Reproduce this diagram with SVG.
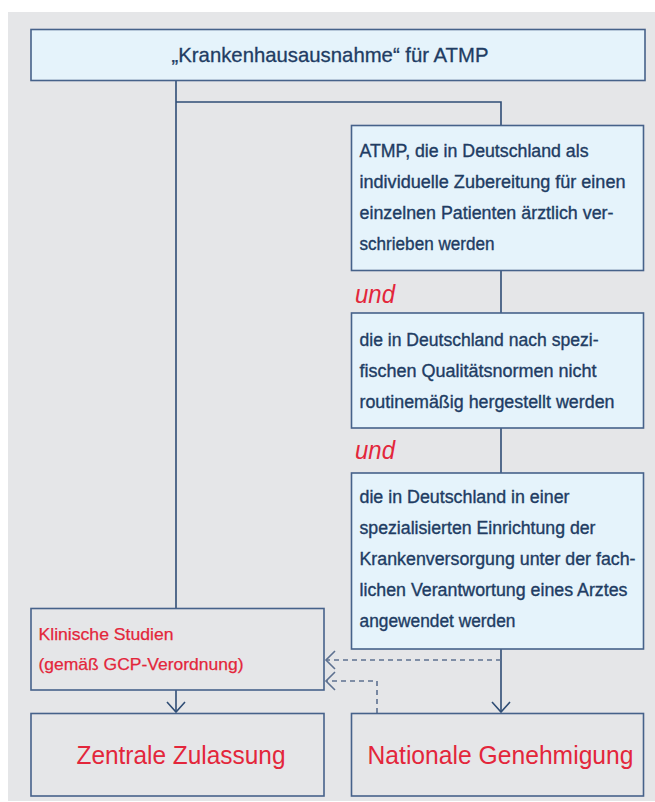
<svg xmlns="http://www.w3.org/2000/svg" width="655" height="802" viewBox="0 0 655 802">
  <style>
    .box { fill: #e5f3fb; stroke: #46628a; stroke-width: 1.6; }
    .gbox { fill: #e5e6e8; stroke: #46628a; stroke-width: 1.6; }
    .t { font-family: "Liberation Sans", Arial, sans-serif; font-size: 17.5px; fill: #213c63; stroke: #213c63; stroke-width: 0.35; }
    .title { font-family: "Liberation Sans", Arial, sans-serif; font-size: 21px; fill: #213c63; stroke: #213c63; stroke-width: 0.3; }
    .red { font-family: "Liberation Sans", Arial, sans-serif; font-size: 17px; fill: #e3263b; stroke: #e3263b; stroke-width: 0.25; }
    .big { font-family: "Liberation Sans", Arial, sans-serif; font-size: 26px; fill: #e3263b; }
    .und { font-family: "Liberation Sans", Arial, sans-serif; font-size: 26px; font-style: italic; fill: #e3263b; }
    .line { fill: none; stroke: #2f4d75; stroke-width: 1.6; }
    .dash { fill: none; stroke: #5d7190; stroke-width: 1.6; stroke-dasharray: 5 4; }
  </style>
  <defs>
    <marker id="chev" markerUnits="userSpaceOnUse" viewBox="-12 -11 14 22" refX="0" refY="0" markerWidth="14" markerHeight="22" orient="auto">
      <path d="M-10,-9 L0,0 L-10,9" fill="none" stroke="#2f4d75" stroke-width="1.6"/>
    </marker>
    <marker id="chevd" markerUnits="userSpaceOnUse" viewBox="-12 -11 14 22" refX="0" refY="0" markerWidth="14" markerHeight="22" orient="auto">
      <path d="M-9,-9 L0,0 L-9,9" fill="none" stroke="#5d7190" stroke-width="1.6"/>
    </marker>
  </defs>

  <rect x="0" y="0" width="655" height="802" fill="#ffffff"/>
  <rect x="8" y="12" width="647" height="789" fill="#e5e6e8"/>

  <g id="connectors">
    <path class="line" d="M176,81 V608"/>
    <path class="line" d="M176,102 H501 V125"/>
    <path class="line" d="M501,271 V313"/>
    <path class="line" d="M501,428 V473"/>
    <path class="line" d="M501,649 V712" marker-end="url(#chev)"/>
    <path class="line" d="M176,690 V712" marker-end="url(#chev)"/>
    <path class="dash" d="M501,660 H326" marker-end="url(#chevd)"/>
    <path class="dash" d="M377,713 V681 H326" marker-end="url(#chevd)"/>
  </g>

  <g id="node-top">
    <rect class="box" x="31" y="29.5" width="614" height="51"/>
    <text class="title" x="171.5" y="62" textLength="317" lengthAdjust="spacingAndGlyphs">„Krankenhausausnahme“ für ATMP</text>
  </g>

  <g id="node-crit1">
    <rect class="box" x="351.5" y="125.5" width="292" height="145"/>
    <text class="t" x="359.5" y="157" textLength="229" lengthAdjust="spacingAndGlyphs">ATMP, die in Deutschland als</text>
    <text class="t" x="359.5" y="188" textLength="266" lengthAdjust="spacingAndGlyphs">individuelle Zubereitung für einen</text>
    <text class="t" x="359.5" y="219" textLength="254" lengthAdjust="spacingAndGlyphs">einzelnen Patienten ärztlich ver-</text>
    <text class="t" x="359.5" y="250" textLength="135" lengthAdjust="spacingAndGlyphs">schrieben werden</text>
  </g>

  <g id="und1">
    <text class="und" x="355" y="303" textLength="40" lengthAdjust="spacingAndGlyphs">und</text>
  </g>

  <g id="node-crit2">
    <rect class="box" x="351.5" y="313" width="292" height="115"/>
    <text class="t" x="359.5" y="346" textLength="239" lengthAdjust="spacingAndGlyphs">die in Deutschland nach spezi-</text>
    <text class="t" x="359.5" y="377" textLength="237" lengthAdjust="spacingAndGlyphs">fischen Qualitätsnormen nicht</text>
    <text class="t" x="359.5" y="408" textLength="255" lengthAdjust="spacingAndGlyphs">routinemäßig hergestellt werden</text>
  </g>

  <g id="und2">
    <text class="und" x="355" y="459" textLength="40" lengthAdjust="spacingAndGlyphs">und</text>
  </g>

  <g id="node-crit3">
    <rect class="box" x="351.5" y="473" width="292" height="176"/>
    <text class="t" x="359.5" y="503" textLength="210" lengthAdjust="spacingAndGlyphs">die in Deutschland in einer</text>
    <text class="t" x="359.5" y="534" textLength="236" lengthAdjust="spacingAndGlyphs">spezialisierten Einrichtung der</text>
    <text class="t" x="359.5" y="565" textLength="276" lengthAdjust="spacingAndGlyphs">Krankenversorgung unter der fach-</text>
    <text class="t" x="359.5" y="596" textLength="268" lengthAdjust="spacingAndGlyphs">lichen Verantwortung eines Arztes</text>
    <text class="t" x="359.5" y="627" textLength="156" lengthAdjust="spacingAndGlyphs">angewendet werden</text>
  </g>

  <g id="node-klinisch">
    <rect class="gbox" x="31" y="608.5" width="293" height="81.5"/>
    <text class="red" x="38.5" y="639.5" textLength="135" lengthAdjust="spacingAndGlyphs">Klinische Studien</text>
    <text class="red" x="38.5" y="669.5" textLength="205" lengthAdjust="spacingAndGlyphs">(gemäß GCP-Verordnung)</text>
  </g>

  <g id="node-zentral">
    <rect class="gbox" x="31" y="713.5" width="293" height="82.5"/>
    <text class="big" x="76.5" y="763.5" textLength="209" lengthAdjust="spacingAndGlyphs">Zentrale Zulassung</text>
  </g>

  <g id="node-national">
    <rect class="gbox" x="351.5" y="713.5" width="292" height="82.5"/>
    <text class="big" x="367.5" y="763.5" textLength="266" lengthAdjust="spacingAndGlyphs">Nationale Genehmigung</text>
  </g>
</svg>
